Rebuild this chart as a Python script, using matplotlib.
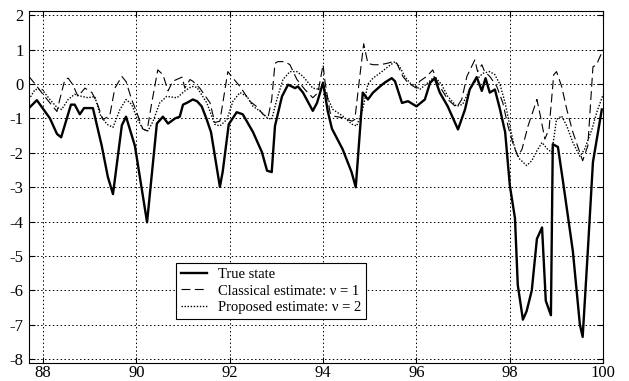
"""Recreation of the true state vs. estimates plot."""

import matplotlib
matplotlib.use("Agg")
import matplotlib.pyplot as plt

plt.rcParams["font.family"] = ["Liberation Serif", "DejaVu Serif"]
plt.rcParams["axes.unicode_minus"] = False

# true state (solid)
true_x = [87.7, 87.87, 88.15, 88.3, 88.39, 88.6, 88.68, 88.79, 88.88, 89.07,
          89.26, 89.39, 89.5, 89.69, 89.78, 89.97, 90.23, 90.44, 90.57, 90.68,
          90.83, 90.93, 91.0, 91.08, 91.21, 91.3, 91.4, 91.5, 91.6, 91.79,
          91.85, 91.98, 92.15, 92.28, 92.5, 92.69, 92.8, 92.9, 92.97, 93.12,
          93.25, 93.4, 93.46, 93.57, 93.78, 93.87, 94.0, 94.02, 94.1, 94.19,
          94.42, 94.61, 94.7, 94.85, 94.96, 95.07, 95.22, 95.32, 95.47, 95.54,
          95.69, 95.82, 96.0, 96.18, 96.29, 96.39, 96.5, 96.67, 96.89, 97.04,
          97.14, 97.29, 97.4, 97.48, 97.57, 97.68, 97.79, 97.9, 98.0, 98.11,
          98.17, 98.28, 98.36, 98.47, 98.58, 98.69, 98.77, 98.88, 98.92, 99.03,
          99.13, 99.35, 99.5, 99.56, 99.67, 99.78, 99.97]
true_y = [-0.7, -0.47, -1.0, -1.45, -1.55, -0.6, -0.6, -0.88, -0.7, -0.7,
          -1.8, -2.7, -3.2, -1.2, -0.95, -1.8, -4.02, -1.15, -0.95, -1.15,
          -1.0, -0.95, -0.6, -0.55, -0.45, -0.5, -0.65, -1.0, -1.4, -2.99,
          -2.55, -1.17, -0.82, -0.88, -1.4, -1.98, -2.52, -2.56, -1.22, -0.36,
          -0.02, -0.12, -0.07, -0.25, -0.78, -0.55, 0.04, -0.12, -0.79, -1.3,
          -1.9, -2.56, -3.0, -0.25, -0.45, -0.25, -0.07, 0.04, 0.17, 0.08,
          -0.55, -0.5, -0.65, -0.45, 0.03, 0.17, -0.25, -0.65, -1.32, -0.74,
          -0.16, 0.2, -0.2, 0.17, -0.25, -0.16, -0.74, -1.4, -2.95, -3.9,
          -5.84, -6.85, -6.6, -6.0, -4.5, -4.17, -6.3, -6.72, -1.75, -1.83,
          -2.75, -4.86, -6.99, -7.35, -4.86, -2.27, -0.74]

# classical estimate, nu = 1 (dashed)
classic_x = [87.7, 87.79, 87.9, 88.0, 88.15, 88.3, 88.36, 88.47, 88.54, 88.64,
             88.75, 88.9, 89.05, 89.16, 89.28, 89.43, 89.54, 89.69, 89.78, 89.9,
             90.01, 90.14, 90.23, 90.33, 90.46, 90.57, 90.68, 90.78, 90.98, 91.04,
             91.15, 91.21, 91.36, 91.58, 91.68, 91.79, 91.96, 92.04, 92.22, 92.43,
             92.6, 92.71, 92.82, 92.9, 92.97, 93.03, 93.18, 93.29, 93.44, 93.61,
             93.78, 93.89, 94.0, 94.04, 94.15, 94.21, 94.42, 94.62, 94.68, 94.77,
             94.87, 94.96, 95.07, 95.22, 95.37, 95.5, 95.58, 95.71, 95.82, 96.0,
             96.07, 96.22, 96.35, 96.44, 96.54, 96.67, 96.86, 96.97, 97.08, 97.25,
             97.31, 97.4, 97.46, 97.57, 97.72, 97.85, 97.96, 98.06, 98.17, 98.26,
             98.39, 98.58, 98.64, 98.75, 98.84, 98.94, 99.0, 99.11, 99.22, 99.35,
             99.46, 99.56, 99.67, 99.78, 99.86, 99.9, 100.0]
classic_y = [0.22, 0.07, -0.12, -0.3, -0.55, -0.8, -0.45, 0.13, 0.17, -0.02,
             -0.36, -0.12, -0.25, -0.55, -1.03, -0.93, -0.12, 0.22, 0.07, -0.45,
             -0.83, -1.31, -1.36, -0.55, 0.41, 0.27, -0.2, 0.08, 0.2, -0.12,
             0.13, 0.08, -0.12, -0.55, -1.12, -1.08, 0.36, 0.22, -0.07, -0.5,
             -0.68, -0.88, -0.98, -0.45, 0.6, 0.65, 0.65, 0.56, 0.13, -0.16,
             -0.4, -0.25, 0.56, 0.08, -0.83, -0.93, -0.98, -1.08, -1.03, 0.03,
             1.17, 0.6, 0.56, 0.56, 0.6, 0.65, 0.6, 0.22, 0.03, -0.12,
             0.08, 0.22, 0.41, 0.08, -0.16, -0.45, -0.68, -0.45, 0.22, 0.7,
             0.36, 0.56, 0.36, 0.22, -0.07, -0.55, -1.22, -1.7, -2.1, -1.9,
             -1.22, -0.45, -0.83, -1.6, -1.31, 0.27, 0.36, -0.07, -0.74, -1.4,
             -1.84, -2.23, -1.8, 0.5, 0.56, 0.7, 1.0]

# proposed estimate, nu = 2 (dotted)
proposed_x = [87.7, 87.83, 87.98, 88.15, 88.3, 88.4, 88.54, 88.68, 88.83, 88.97,
              89.11, 89.22, 89.37, 89.5, 89.65, 89.78, 89.9, 90.01, 90.14, 90.25,
              90.36, 90.5, 90.65, 90.87, 91.04, 91.19, 91.3, 91.51, 91.68, 91.79,
              91.94, 92.07, 92.22, 92.37, 92.5, 92.69, 92.8, 92.9, 93.01, 93.14,
              93.29, 93.44, 93.57, 93.78, 93.93, 94.0, 94.08, 94.21, 94.42, 94.62,
              94.72, 94.85, 94.96, 95.07, 95.26, 95.39, 95.54, 95.64, 95.75, 95.86,
              96.0, 96.07, 96.24, 96.39, 96.54, 96.67, 96.86, 96.99, 97.14, 97.29,
              97.42, 97.57, 97.68, 97.79, 97.9, 98.0, 98.11, 98.21, 98.36, 98.47,
              98.58, 98.69, 98.81, 98.9, 99.0, 99.11, 99.22, 99.35, 99.5, 99.6,
              99.76, 99.86, 100.0]
proposed_y = [-0.45, -0.16, -0.16, -0.45, -0.68, -0.74, -0.45, -0.3, -0.36, -0.4,
              -0.36, -0.88, -1.17, -1.26, -0.74, -0.45, -0.59, -0.98, -1.31, -1.36,
              -1.08, -0.55, -0.36, -0.4, -0.2, -0.07, -0.1, -0.55, -1.17, -1.22,
              -1.03, -0.5, -0.25, -0.36, -0.65, -0.83, -0.98, -1.03, -0.45, 0.13,
              0.36, 0.36, 0.22, -0.12, -0.16, 0.0, -0.36, -0.74, -0.93, -1.17,
              -1.22, -0.74, 0.0, 0.17, 0.36, 0.5, 0.65, 0.5, 0.22, 0.03,
              -0.07, -0.16, 0.03, 0.22, -0.02, -0.36, -0.65, -0.59, -0.16, 0.13,
              0.31, 0.36, 0.27, -0.02, -0.55, -1.22, -1.9, -2.18, -2.37, -2.23,
              -1.94, -1.7, -1.9, -1.98, -1.03, -0.93, -1.22, -1.7, -2.1, -1.9,
              -1.31, -0.83, -0.3]

x_ticks = [88, 90, 92, 94, 96, 98, 100]
y_ticks = [-8, -7, -6, -5, -4, -3, -2, -1, 0, 1, 2]

fig = plt.figure(figsize=(6.29, 3.81), dpi=100)
ax = fig.add_axes([0.046, 0.048, 0.913, 0.923])

ax.plot(true_x, true_y, color="black", lw=1.7, ls="-", label="True state")
ax.plot(classic_x, classic_y, color="black", lw=0.8, ls=(0, (8, 4)),
        label="Classical estimate: ν = 1")
ax.plot(proposed_x, proposed_y, color="black", lw=1.0, ls=(0, (1, 1.2)),
        label="Proposed estimate: ν = 2")

ax.set_xlim(87.7, 100)
ax.set_ylim(-8.1, 2.12)
ax.set_xticks(x_ticks)
ax.set_yticks(y_ticks)
ax.tick_params(direction="in", top=True, right=True, labelsize=12, length=4)
ax.tick_params(axis="x", pad=2)
ax.tick_params(axis="y", pad=4)
ax.grid(True, color="black", ls=(0, (1.5, 2.5)), lw=0.7)
for s in ax.spines.values():
    s.set_linewidth(0.8)

leg = ax.legend(loc="lower left", bbox_to_anchor=(0.256, 0.125), fontsize=10.5,
                frameon=True, fancybox=False, edgecolor="black", framealpha=1,
                handlelength=1.8, borderpad=0.35, labelspacing=0.2,
                handletextpad=0.7, borderaxespad=0)
leg.get_frame().set_linewidth(0.8)

fig.savefig("out.png", dpi=100)
plt.close(fig)
